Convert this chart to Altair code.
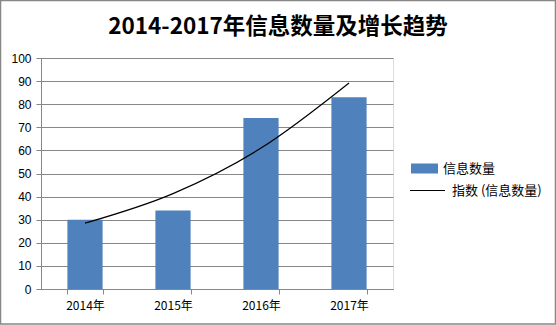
import altair as alt
import pandas as pd

years = ["2014年", "2015年", "2016年", "2017年"]
counts = [30, 34, 74, 83]
trend = [28.5, 41.3, 61.0, 89.2]
y_ticks = [0, 10, 20, 30, 40, 50, 60, 70, 80, 90, 100]
title_text = "2014-2017年信息数量及增长趋势"
bar_name = "信息数量"
line_name = "指数 (信息数量)"

df = pd.DataFrame({"year": years, "value": counts, "trend": trend})

FONT = "Noto Sans CJK SC"
GRAY = "#878787"

base = alt.Chart(df)

xenc = alt.X(
    "year:N",
    sort=years,
    title=None,
    scale=alt.Scale(paddingInner=0.6, paddingOuter=0.3),
    axis=alt.Axis(
        labelAngle=0, tickBand="extent", tickSize=5, tickColor=GRAY,
        domainColor=GRAY, labelFontSize=12, labelFont=FONT, labelColor="black",
        labelPadding=6, grid=False,
    ),
)
yscale = alt.Scale(domain=[0, 100], nice=False)


def yaxis():
    return alt.Axis(
        values=y_ticks, tickSize=5, tickColor=GRAY, domainColor=GRAY, gridColor=GRAY,
        gridOpacity=1, labelFontSize=12, labelFont="Liberation Sans", labelColor="black",
        labelPadding=5, title=None, labelOverlap=False,
    )


bars = base.transform_calculate(series=f"'{bar_name}'").mark_bar(color="#4F81BD").encode(
    x=xenc,
    y=alt.Y("value:Q", scale=yscale, axis=yaxis()),
    color=alt.Color(
        "series:N",
        scale=alt.Scale(domain=[bar_name], range=["#4F81BD"]),
        legend=alt.Legend(
            title=None, orient="none", legendX=370, legendY=97, padding=0,
            symbolType="M-1,-0.37H1V0.37H-1Z", symbolSize=729, symbolStrokeWidth=0,
            symbolOpacity=1, labelFontSize=13, labelFont=FONT, labelColor="black",
            labelOffset=5,
        ),
    ),
)

line = base.transform_calculate(series=f"'{line_name}'").mark_line(
    color="black", strokeWidth=1.2, interpolate="monotone"
).encode(
    x=alt.X("year:N", sort=years),
    y=alt.Y("trend:Q", scale=yscale, axis=yaxis()),
    stroke=alt.Stroke(
        "series:N",
        scale=alt.Scale(domain=[line_name], range=["black"]),
        legend=alt.Legend(
            title=None, orient="none", legendX=368, legendY=114, padding=0,
            symbolType="stroke", symbolSize=1225, symbolStrokeWidth=1.2,
            labelFontSize=13, labelFont=FONT, labelColor="black", labelOffset=6,
        ),
    ),
)

frame = alt.Chart(pd.DataFrame({"f": [0]})).mark_rect(
    fill=None, stroke=GRAY, strokeWidth=1.5
).encode(
    x=alt.value(-40.5), x2=alt.value(514.5), y=alt.value(-57.5), y2=alt.value(266)
)

title = alt.Chart(pd.DataFrame({"t": [title_text]})).mark_text(
    font=FONT, fontSize=22.5, fontWeight="bold", color="black",
    align="center", baseline="alphabetic",
).encode(text="t:N", x=alt.value(237), y=alt.value(-24))

chart = alt.layer(bars, line, frame, title).resolve_scale(color="independent").properties(
    width=352,
    height=231,
    padding={"left": 41, "top": 58, "right": 163, "bottom": 36},
    autosize=alt.AutoSizeParams(type="none"),
).configure_view(stroke=None).configure(background="white")

chart.save("out.html", embed_options={"renderer": "svg", "actions": False})
